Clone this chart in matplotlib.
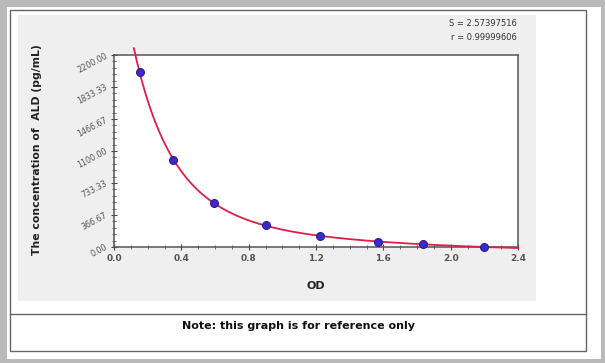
import numpy as np
import matplotlib
matplotlib.use("Agg")
import matplotlib.pyplot as plt
from matplotlib.patches import Rectangle
from matplotlib.lines import Line2D
from matplotlib.ticker import MultipleLocator

# standard points
od = [0.154, 0.350, 0.594, 0.903, 1.224, 1.569, 1.836, 2.198]
conc = [2000, 1000, 500, 250, 125, 62.5, 31.25, 0]

y_ticks = [0, 366.67, 733.33, 1100, 1466.67, 1833.33, 2200]
y_labels = ["0.00", "366.67", "733.33", "1100.00", "1466.67", "1833.33", "2200.00"]
x_ticks = [0.0, 0.4, 0.8, 1.2, 1.6, 2.0, 2.4]
stats = ["S = 2.57397516", "r = 0.99999606"]

W, H = 605, 363
fig = plt.figure(figsize=(W / 100, H / 100), dpi=100)
fig.patch.set_facecolor("#b9b9b9")


def px(x, y):
    return x / W, 1 - y / H


def box(x0, y0, x1, y1, **kw):
    fx, fy = px(x0, y1)
    fig.patches.append(Rectangle((fx, fy), (x1 - x0) / W, (y1 - y0) / H,
                                 transform=fig.transFigure, **kw))


# page background, table border, chart picture area
box(7, 7, 601, 359, facecolor="white", edgecolor="none", zorder=0)
box(18, 15, 536, 301, facecolor="#efefef", edgecolor="none", zorder=0)
box(10, 10, 586, 351, facecolor="none", edgecolor="#666666", lw=1.0, zorder=1)
fig.lines.append(Line2D([10 / W, 586 / W], [1 - 314 / H] * 2,
                        transform=fig.transFigure, color="#666666", lw=1.0))

l, b = px(114, 247)
ax = fig.add_axes([l, b, 404 / W, 192 / H])
ax.set_zorder(5)
ax.set_facecolor("white")

# smooth fitted curve from the standards
lc = np.log(np.array(conc) + 30)
p = np.polyfit(od, lc, 3)
xs = np.linspace(0.118, 2.4, 300)
ys = np.exp(np.polyval(p, xs)) - 30
ax.plot(xs, ys, color="#e01e48", lw=1.3, clip_on=False, zorder=3)
ax.scatter(od, conc, s=32, color="#3b2ad0", edgecolor="#2a1a8a", lw=0.8,
           zorder=4, clip_on=False)

ax.set_xlim(0, 2.4)
ax.set_ylim(0, 2200)
ax.set_xticks(x_ticks)
ax.set_xticklabels([f"{v:.1f}" for v in x_ticks], fontweight="bold")
ax.xaxis.set_minor_locator(MultipleLocator(0.1))
ax.set_yticks(y_ticks)
ax.set_yticklabels(y_labels, rotation=28, ha="right", va="center",
                   rotation_mode="anchor", fontsize=5.8)
ax.yaxis.set_minor_locator(MultipleLocator(2200 / 30))
ax.tick_params(which="major", length=4, width=0.8, direction="inout",
               colors="#444444", labelcolor="#555555", pad=3)
ax.tick_params(axis="x", labelsize=6.5)
ax.tick_params(which="minor", length=2.5, width=0.6, direction="inout",
               colors="#555555")
for s in ax.spines.values():
    s.set_color("#555555")
    s.set_linewidth(1.1)

fig.text(*px(316, 286), "OD", ha="center", va="center", fontsize=8,
         fontweight="bold", color="#222222")
fig.text(*px(37, 150), "The concentration of  ALD (pg/mL)", rotation=90,
         ha="center", va="center", fontsize=7.8, fontweight="bold",
         color="#222222")
fig.text(*px(517, 23), stats[0], ha="right", va="center", fontsize=6,
         color="#333333", family="Liberation Sans Narrow")
fig.text(*px(517, 37), stats[1], ha="right", va="center", fontsize=6,
         color="#333333", family="Liberation Sans Narrow")
fig.text(*px(298, 326), "Note: this graph is for reference only",
         ha="center", va="center", fontsize=8, fontweight="bold",
         color="#111111")

fig.savefig("out.png", dpi=100, facecolor=fig.get_facecolor())
